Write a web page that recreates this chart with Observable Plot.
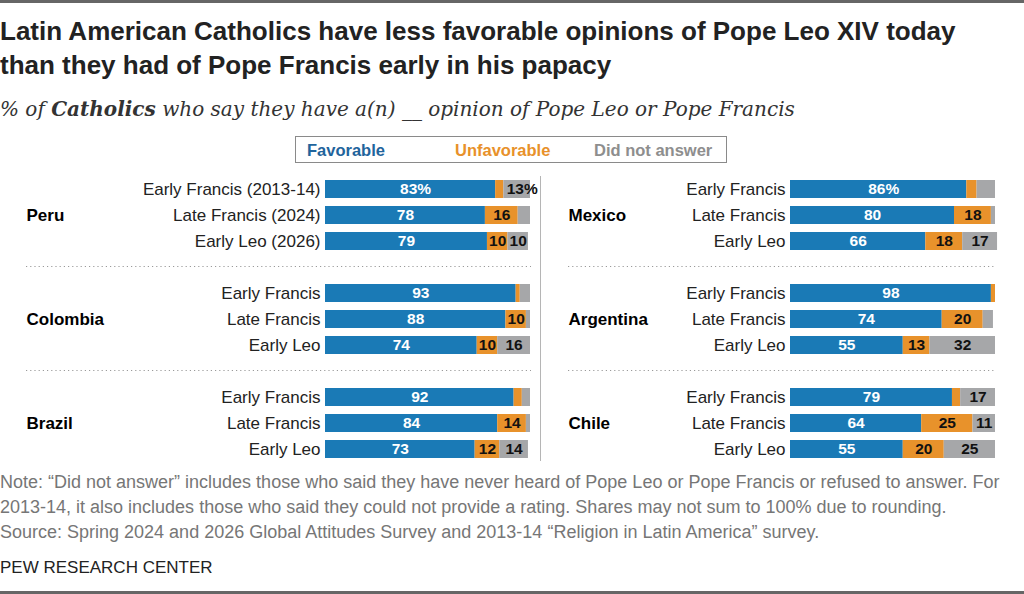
<!DOCTYPE html>
<html>
<head>
<meta charset="utf-8">
<script src="https://cdn.jsdelivr.net/npm/d3@7"></script>
<script src="https://cdn.jsdelivr.net/npm/@observablehq/plot@0.6"></script>
<style>
  body { margin:0; width:1024px; height:594px; position:relative; overflow:hidden; background:#fff; font-family:"Liberation Sans", Arial, sans-serif; }
  .abs { position:absolute; left:0; white-space:nowrap; }
  #title { top:14px; font-weight:bold; font-size:26px; line-height:34px; color:#222; }
  #subtitle { top:97px; font-family:"DejaVu Serif", serif; font-style:italic; font-size:20px; color:#333; }
  #legend { position:absolute; left:295px; top:136px; width:432px; height:27px; border:1.5px solid #8a8a8a; box-sizing:border-box; }
  #legend span { position:absolute; top:4px; font-weight:bold; font-size:16.5px; }
  #chart { position:absolute; left:0; top:163px; }
  #note { top:470px; font-size:18px; line-height:25px; color:#767676; }
  #pew { top:558px; font-size:17px; color:#222; font-weight:500; }
  .line { position:absolute; left:0; width:1024px; height:3px; background:#666; }
</style>
</head>
<body>
<div class="line" style="top:0"></div>
<div id="title" class="abs">Latin American Catholics have less favorable opinions of Pope Leo XIV today<br>than they had of Pope Francis early in his papacy</div>
<div id="subtitle" class="abs">% of <b>Catholics</b> who say they have a(n) __ opinion of Pope Leo or Pope Francis</div>
<div id="legend">
  <span style="left:11px;color:#1f649c">Favorable</span>
  <span style="left:159px;color:#e8912a">Unfavorable</span>
  <span style="left:298px;color:#8e8e8e">Did not answer</span>
</div>
<div id="chart"></div>
<div id="note" class="abs">Note: “Did not answer” includes those who said they have never heard of Pope Leo or Pope Francis or refused to answer. For<br>2013-14, it also includes those who said they could not provide a rating. Shares may not sum to 100% due to rounding.<br>Source: Spring 2024 and 2026 Global Attitudes Survey and 2013-14 “Religion in Latin America” survey.</div>
<div id="pew" class="abs">PEW RESEARCH CENTER</div>
<div class="line" style="top:591px"></div>
<script>
const countries = ["Peru", "Mexico", "Colombia", "Argentina", "Brazil", "Chile"];
const columns = ["L", "R", "L", "R", "L", "R"];
const rows = [0, 0, 1, 1, 2, 2];
const periods = ["Early Francis", "Late Francis", "Early Leo"];
const peruPeriods = ["Early Francis (2013-14)", "Late Francis (2024)", "Early Leo (2026)"];
const categories = ["Favorable", "Unfavorable", "Did not answer"];
const colors = ["#1a7ab6", "#e8922b", "#a6a7a9"];
// values per country: [Early Francis, Late Francis, Early Leo]
const favorable    = [[83, 78, 79], [86, 80, 66], [93, 88, 74], [98, 74, 55], [92, 84, 73], [79, 64, 55]];
const unfavorable  = [[4, 16, 10], [5, 18, 18], [2, 10, 10], [2, 20, 13], [4, 14, 12], [4, 25, 20]];
const didNotAnswer = [[13, 6, 10], [9, 2, 17], [5, 2, 16], [0, 5, 32], [4, 2, 14], [17, 11, 25]];

const segs = [];
const labelRows = [];
const countryRows = [];
countries.forEach((c, i) => {
  const col = columns[i], row = rows[i];
  countryRows.push({country: c, col, key: `r${row}p1`});
  periods.forEach((p, j) => {
    const key = `r${row}p${j}`;
    const label = c === "Peru" ? peruPeriods[j] : p;
    labelRows.push({col, key, label});
    [favorable[i][j], unfavorable[i][j], didNotAnswer[i][j]].forEach((v, k) => {
      segs.push({country: c, col, key, cat: categories[k], value: v, pct: row === 0 && j === 0});
    });
  });
});
const yDomain = ["r0p0","r0p1","r0p2","s0","r1p0","r1p1","r1p2","s1","r2p0","r2p1","r2p2"];
const seps = ["L", "R"].flatMap(col => ["s0", "s1"].map(key => ({col, key})));

const valueText = (test, fill, dx) => Plot.text(segs, Plot.stackX({
  x: "value", y: "key", z: "cat", fx: "col",
  text: d => test(d) ? `${d.value}${d.pct ? "%" : ""}` : "",
  fill, dx, fontWeight: "bold", fontSize: 15.5
}));

const chart = Plot.plot({
  width: 1024,
  height: 308,
  marginTop: 5,
  marginBottom: 1,
  marginLeft: 324,
  marginRight: 29,
  style: {fontFamily: "'Liberation Sans', Arial, sans-serif", background: "white"},
  x: {domain: [0, 100], axis: null},
  y: {domain: yDomain, axis: null, paddingInner: 0.32, paddingOuter: 0.32},
  fx: {domain: ["L", "R"], axis: null, paddingInner: 0.56, paddingOuter: 0},
  color: {domain: categories, range: colors},
  marks: [
    Plot.ruleY(seps.filter(d => d.col === "L"), {y: "key", fx: "col", dy: -1, stroke: "#9a9a9a", strokeDasharray: "1.2,3", insetLeft: -299, insetRight: -1}),
    Plot.ruleY(seps.filter(d => d.col === "R"), {y: "key", fx: "col", dy: -1, stroke: "#9a9a9a", strokeDasharray: "1.2,3", insetLeft: -222, insetRight: 0}),
    Plot.ruleX([{col: "R"}], {x: () => 0, fx: "col", dx: -250, insetTop: 8, insetBottom: 9, stroke: "#b5b5b5"}),
    Plot.barX(segs, Plot.stackX({x: "value", y: "key", z: "cat", fx: "col", fill: "cat"})),
    valueText(d => d.cat === "Favorable" && d.value >= 10 && !d.pct, "white", 0),
    valueText(d => d.cat === "Favorable" && d.value >= 10 && d.pct, "white", 5),
    valueText(d => d.cat !== "Favorable" && d.value >= 10 && !d.pct, "#111", 0),
    valueText(d => d.cat !== "Favorable" && d.value >= 10 && d.pct, "#111", 5),
    Plot.text(labelRows, {y: "key", fx: "col", text: "label", frameAnchor: "left", textAnchor: "end", dx: -5, fontSize: 17, fill: "#222"}),
    Plot.text(countryRows.filter(d => d.col === "L"), {y: "key", fx: "col", text: "country", frameAnchor: "left", textAnchor: "start", dx: -299, fontSize: 17, fontWeight: "bold", fill: "#000"}),
    Plot.text(countryRows.filter(d => d.col === "R"), {y: "key", fx: "col", text: "country", frameAnchor: "left", textAnchor: "start", dx: -222, fontSize: 17, fontWeight: "bold", fill: "#000"})
  ]
});
document.getElementById("chart").appendChild(chart);
</script>
</body>
</html>
